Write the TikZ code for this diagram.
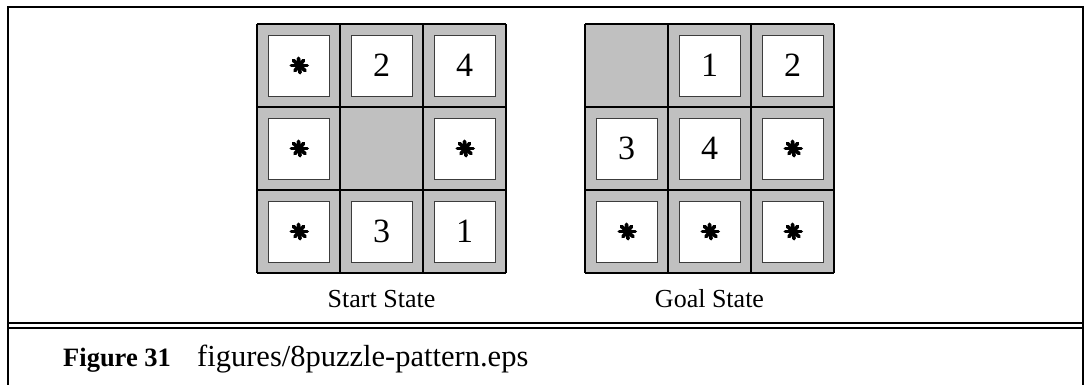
\documentclass[tikz,border=0pt]{standalone}
\usepackage{fontspec}
\setmainfont{Liberation Serif}
\definecolor{cellgray}{RGB}{192,192,192}
\definecolor{tileedge}{RGB}{60,60,60}
\begin{document}
\begin{tikzpicture}[x=1pt,y=-1pt,
  tile/.style={draw=tileedge, line width=0.9pt, fill=white, minimum size=61pt, inner sep=0pt, font=\fontsize{34}{34}\selectfont},
  startile/.style={tile},
  astarm/.style={line width=3.7pt, line cap=round},
  gridline/.style={line width=2.8pt},
  frameline/.style={line width=2.5pt},
  label/.style={font=\fontsize{26}{26}\selectfont, anchor=base}]
\useasboundingbox (0,0) rectangle (1086,384);
\fill[white] (0,0) rectangle (1086,384);
% frame
\draw[frameline] (8,395) -- (8,7) -- (1083,7) -- (1083,395);
\draw[line width=2pt] (8,323) -- (1083,323);
\draw[line width=2pt] (8,327.5) -- (1083,327.5);
% grids
\foreach \ox/\nm in {257/s,585/g}{
  \fill[cellgray] (\ox,24) rectangle (\ox+249,273);
  \foreach \i in {0,1,2,3}{
    \draw[gridline] (\ox+83*\i,24) -- (\ox+83*\i,273);
    \draw[gridline] (\ox,24+83*\i) -- (\ox+249,24+83*\i);
  }
}
% start state tiles
\node[startile] (s11) at (298.5,65.5) {};
\node[tile]     (s12) at (381.5,65.5) {2};
\node[tile]     (s13) at (464.5,65.5) {4};
\node[startile] (s21) at (298.5,148.5) {};
\node[startile] (s23) at (464.5,148.5) {};
\node[startile] (s31) at (298.5,231.5) {};
\node[tile]     (s32) at (381.5,231.5) {3};
\node[tile]     (s33) at (464.5,231.5) {1};
% goal state tiles
\node[tile]     (g12) at (709.5,65.5) {1};
\node[tile]     (g13) at (792.5,65.5) {2};
\node[tile]     (g21) at (626.5,148.5) {3};
\node[tile]     (g22) at (709.5,148.5) {4};
\node[startile] (g23) at (792.5,148.5) {};
\node[startile] (g31) at (626.5,231.5) {};
\node[startile] (g32) at (709.5,231.5) {};
\node[startile] (g33) at (792.5,231.5) {};
% heavy asterisks
\foreach \n in {s11,s21,s23,s31,g23,g31,g32,g33}{
  \fill ([shift={(1.5,0)}]\n.center) circle (3.2pt);
  \foreach \a in {0,45,90,135}{
    \draw[astarm] ([shift={(\a:7.2)}]\n.center) ++(1.5,0) -- ([shift={(\a+180:7.2)}]\n.center) ++(1.5,0);
  }
}
% labels
\node[label] (startlbl) at (381.5,307) {Start State};
\node[label] (goallbl) at (709.5,307) {Goal State};
% caption
\node[anchor=base west, inner sep=0pt, font=\bfseries\fontsize{26.5}{26.5}\selectfont] (figno) at (63,366) {Figure 31};
\node[anchor=base west, inner sep=0pt, font=\fontsize{30.5}{30.5}\selectfont] (figname) at (197,366) {figures/8puzzle-pattern.eps};
\end{tikzpicture}
\end{document}
